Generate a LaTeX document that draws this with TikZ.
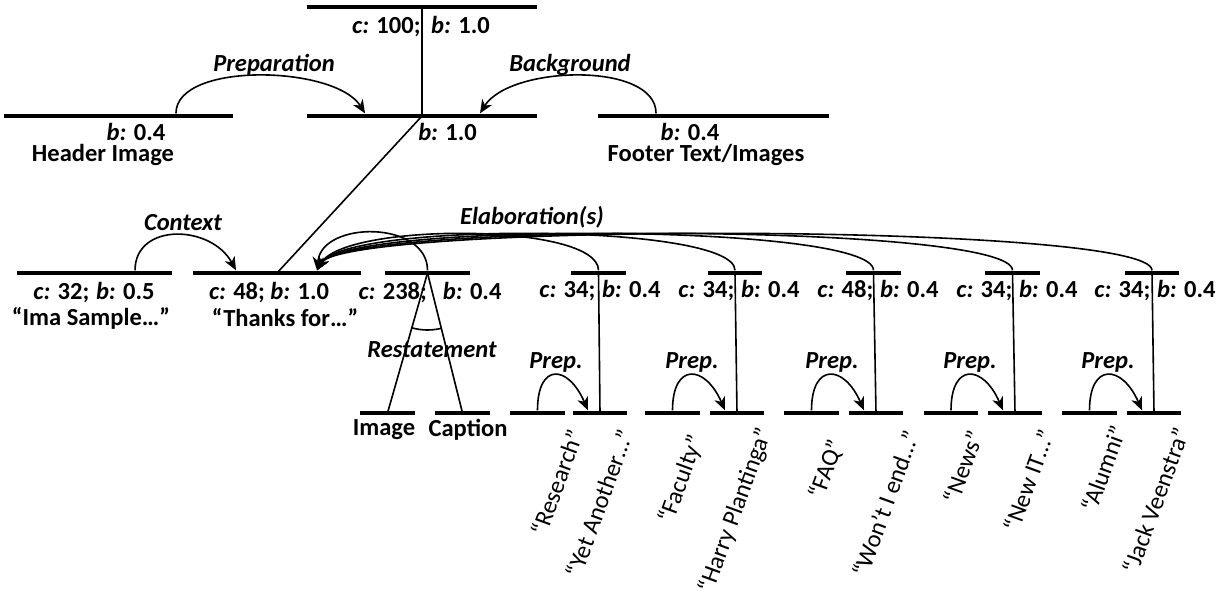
\documentclass[tikz,border=0pt]{standalone}
\usepackage{fontspec}
\setmainfont{Carlito}
\usetikzlibrary{arrows.meta,angles}

\newcommand{\labsize}{\fontsize{18.4}{22}\selectfont}
\newcommand{\ckey}{\textit{c:}}
\newcommand{\bkey}{\textit{b:}}

\tikzset{
  bar/.style={fill=black,inner sep=0pt,minimum height=3.6pt},
  longbar/.style={bar,minimum width=172.5pt},
  shortbar/.style={bar,minimum width=41pt},
  lab/.style={font=\labsize\bfseries,inner sep=0pt},
  rel/.style={font=\labsize\bfseries\itshape,inner sep=0pt},
  rottext/.style={font=\labsize,inner sep=0pt,rotate=70,anchor=north east},
  conn/.style={line width=1.2pt},
  relarrow/.style={conn,-{Stealth[length=10pt,width=8.5pt,inset=3pt]}}
}

\begin{document}
\begin{tikzpicture}[x=0.75pt,y=0.75pt]
  \useasboundingbox (0,0) rectangle (1231,-599);

  % top level
  \node[longbar] (top) at (422,-7) {};
  \node[longbar] (mid) at (422,-116) {};
  \node[bar,minimum width=171.75pt] (hdr) at (118.5,-116) {};
  \node[bar,minimum width=173.25pt] (ftr) at (713.5,-116) {};

  \node[lab] (topl) at (421,-27) {\ckey{} 100;\hspace{8pt}\bkey{} 1.0};
  \node[lab,anchor=west] (midl) at (418,-132) {\bkey{} 1.0};
  \node[lab] (hdrl) at (136,-132) {\bkey{} 0.4};
  \node[lab] (hdrn) at (103,-155) {Header Image};
  \node[lab] (ftrl) at (690,-132) {\bkey{} 0.4};
  \node[lab] (ftrn) at (706,-155) {Footer Text/Images};

  \draw[conn] (top.center) -- (mid.center);
  \draw[relarrow] ([xshift=43.1pt]hdr.north) .. controls +(0,52) and +(-30,48) .. ([xshift=-42.75pt]mid.north);
  \draw[relarrow] ([xshift=-43.1pt]ftr.north) .. controls +(0,52) and +(30,48) .. ([xshift=43.5pt]mid.north);
  \node[rel] (prepa) at (274,-65) {Preparation};
  \node[rel] (backg) at (570,-65) {Background};

  % second level
  \node[bar,minimum width=116.25pt] (ima) at (94.5,-273) {};
  \node[bar,minimum width=126pt] (thk) at (277,-273) {};
  \node[bar,minimum width=63.75pt] (rst) at (427.5,-273) {};
  \node[shortbar] (e1) at (598.5,-273) {};
  \node[shortbar] (e2) at (735,-273) {};
  \node[shortbar] (e3) at (873.5,-273) {};
  \node[shortbar] (e4) at (1012.5,-273) {};
  \node[shortbar] (e5) at (1152,-273) {};

  \draw[conn] (mid.center) -- (thk.center);

  \node[lab] (imal) at (94,-293) {\ckey{} 32;\hspace{5pt}\bkey{} 0.5};
  \node[lab] (iman) at (91,-318) {“Ima Sample…”};
  \node[lab] (thkl) at (269,-293) {\ckey{} 48; \bkey{} 1.0};
  \node[lab] (thkn) at (285,-318) {“Thanks for…”};
  \node[lab] (rstl) at (430,-293) {\ckey{} 238;\hspace{12pt}\bkey{} 0.4};
  \node[lab] (e1l) at (600,-291) {\ckey{} 34;\hspace{5pt}\bkey{} 0.4};
  \node[lab] (e2l) at (739,-291) {\ckey{} 34;\hspace{5pt}\bkey{} 0.4};
  \node[lab] (e3l) at (878,-291) {\ckey{} 48;\hspace{5pt}\bkey{} 0.4};
  \node[lab] (e4l) at (1017,-291) {\ckey{} 34;\hspace{5pt}\bkey{} 0.4};
  \node[lab] (e5l) at (1155,-291) {\ckey{} 34;\hspace{5pt}\bkey{} 0.4};

  \draw[relarrow] ([xshift=30.4pt]ima.north) .. controls +(0,48) and +(-25,46) .. ([xshift=-30.75pt]thk.north);
  \node[rel] (ctx) at (183,-223) {Context};

  \draw[relarrow] (rst.north) .. controls +(0,50) and +(5,50) .. ([xshift=30pt]thk.north);
  \foreach \e in {e1,e2,e3,e4,e5}
    \draw[relarrow] (\e.north) .. controls +(0,48) and +(28,48) .. ([xshift=30pt]thk.north);
  \node[rel] (elab) at (532,-217) {Elaboration(s)};

  % restatement
  \node[shortbar] (img) at (387.5,-413) {};
  \node[shortbar] (cap) at (462.5,-413) {};
  \draw[conn] (rst.center) -- (img.center);
  \draw[conn] (rst.center) -- (cap.center);
  \pic[draw,line width=1.2pt,angle radius=42.75pt] {angle=img--rst--cap};
  \node[rel] (rstn) at (432,-350) {Restatement};
  \node[lab] (imgl) at (384,-430) {Image};
  \node[lab] (capl) at (468,-430) {Caption};

  % preparation pairs under each elaboration
  \foreach \i/\xl/\xr/\xp in {1/537.5/600/556,2/672.5/737/692,3/811.5/876/832,4/951/1015/970,5/1089.5/1154/1108}{
    \node[shortbar] (pl\i) at (\xl,-413) {};
    \node[shortbar] (pr\i) at (\xr,-413) {};
    \draw[relarrow] (pl\i.north) .. controls +(0,48) and +(-20,46) .. ([xshift=-9pt]pr\i.north);
    \node[rel] (prep\i) at (\xp,-362) {Prep.};
    \draw[conn] (e\i.center) -- (pr\i.center);
  }

  \node[rottext] (q1) at (567,-427) {“Research”};
  \node[rottext] (q2) at (617,-427) {“Yet Another…”};
  \node[rottext] (q3) at (687,-432) {“Faculty”};
  \node[rottext] (q4) at (755,-425) {“Harry Plantinga”};
  \node[rottext] (q5) at (827,-437) {“FAQ”};
  \node[rottext] (q6) at (903,-428) {“Won’t I end…”};
  \node[rottext] (q7) at (967,-428) {“News”};
  \node[rottext] (q8) at (1038,-427) {“New IT…”};
  \node[rottext] (q9) at (1110,-423) {“Alumni”};
  \node[rottext] (q10) at (1173,-425) {“Jack Veenstra”};
\end{tikzpicture}
\end{document}
